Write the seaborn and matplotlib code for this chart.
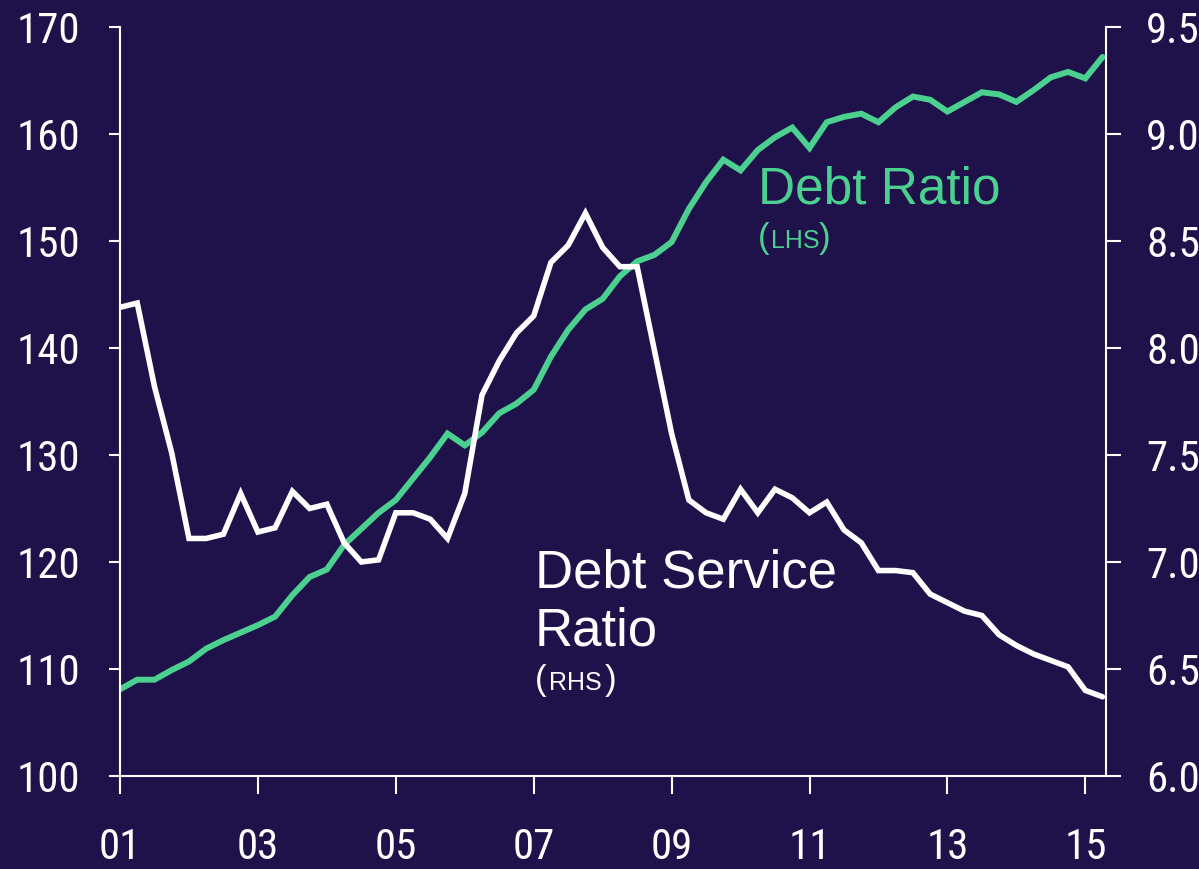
import numpy as np
import pandas as pd
import matplotlib
matplotlib.use('Agg')
import matplotlib.pyplot as plt
from matplotlib import font_manager
import seaborn as sns

# 季度数据 2001Q1 - 2015Q2
debt_ratio = [108.1, 109.0, 109.0, 109.9, 110.7, 111.9, 112.7, 113.4, 114.1, 114.9,
              116.9, 118.6, 119.3, 121.6, 123.1, 124.6, 125.8, 127.8, 129.8, 132.0,
              130.9, 132.1, 133.9, 134.8, 136.1, 139.2, 141.7, 143.6, 144.6, 146.7,
              148.1, 148.7, 149.9, 153.0, 155.5, 157.6, 156.6, 158.5, 159.7, 160.6,
              158.7, 161.1, 161.6, 161.9, 161.1, 162.5, 163.5, 163.2, 162.1, 163.0,
              163.9, 163.7, 163.0, 164.1, 165.3, 165.8, 165.2, 167.2]
debt_service = [8.19, 8.21, 7.82, 7.51, 7.11, 7.11, 7.13, 7.32, 7.14, 7.16,
                7.33, 7.25, 7.27, 7.09, 7.00, 7.01, 7.23, 7.23, 7.20, 7.11,
                7.32, 7.78, 7.94, 8.07, 8.15, 8.40, 8.48, 8.63, 8.47, 8.38,
                8.38, 7.99, 7.60, 7.29, 7.23, 7.20, 7.34, 7.23, 7.34, 7.30,
                7.23, 7.28, 7.15, 7.09, 6.96, 6.96, 6.95, 6.85, 6.81, 6.77,
                6.75, 6.66, 6.61, 6.57, 6.54, 6.51, 6.40, 6.37]
quarters = 2001 + 0.25 * np.arange(len(debt_ratio))

x_ticks = [2001, 2003, 2005, 2007, 2009, 2011, 2013, 2015]
x_labels = ['01', '03', '05', '07', '09', '11', '13', '15']
left_ticks = [100, 110, 120, 130, 140, 150, 160, 170]
right_ticks = [6.0, 6.5, 7.0, 7.5, 8.0, 8.5, 9.0, 9.5]

df = pd.DataFrame({'quarter': quarters, 'debt_ratio': debt_ratio,
                   'debt_service': debt_service})

BG = '#1f114a'
GREEN = '#4bd08f'
WHITE = '#ffffff'
W, H = 1199, 869


def pick_font(candidates):
    """找第一个已安装的窄体字体"""
    for name, size in candidates:
        try:
            font_manager.findfont(font_manager.FontProperties(family=name),
                                  fallback_to_default=False)
            return name, size
        except Exception:
            continue
    return 'Liberation Sans', 28


tick_font, tick_size = pick_font([('Liberation Sans Narrow', 32),
                                  ('DejaVu Sans Condensed', 28),
                                  ('Roboto Condensed', 31),
                                  ('Open Sans Condensed', 31),
                                  ('Liberation Sans', 28)])

sns.set_theme(style='white')
plt.rcParams['font.family'] = [tick_font, 'DejaVu Sans']

fig = plt.figure(figsize=(W / 100, H / 100), dpi=100, facecolor=BG)
ax = fig.add_axes([120 / W, 1 - 776 / H, (1106 - 120) / W, (776 - 27) / H])
ax.set_facecolor(BG)

sns.lineplot(data=df, x='quarter', y='debt_ratio', ax=ax, color=GREEN,
             linewidth=4.3, solid_joinstyle='miter')
ax2 = ax.twinx()
sns.lineplot(data=df, x='quarter', y='debt_service', ax=ax2, color=WHITE,
             linewidth=4.0, solid_joinstyle='miter')
ax2.patch.set_visible(False)

ax.set_xlim(2001, 2015.3)
ax.set_ylim(100, 170)
ax2.set_ylim(6.0, 9.5)
ax.set_xticks(x_ticks)
ax.set_xticklabels(x_labels)
ax.set_yticks(left_ticks)
ax.set_yticklabels([str(v) for v in left_ticks])
ax2.set_yticks(right_ticks)
ax2.set_yticklabels([f'{v:.1f}' for v in right_ticks])

for a in (ax, ax2):
    a.set_xlabel('')
    a.set_ylabel('')
    a.grid(False)
    a.spines['top'].set_visible(False)
    for s in ('left', 'right', 'bottom'):
        a.spines[s].set_color(WHITE)
        a.spines[s].set_linewidth(1.5)

ax.spines['right'].set_visible(False)
ax2.spines['left'].set_visible(False)
ax2.spines['bottom'].set_visible(False)

ax.tick_params(axis='x', direction='out', length=13, width=1.5, color=WHITE,
               labelcolor=WHITE, labelsize=tick_size, pad=24, bottom=True)
ax.tick_params(axis='y', direction='out', length=8, width=1.5, color=WHITE,
               labelcolor=WHITE, labelsize=tick_size, pad=21, left=True)
ax2.tick_params(axis='y', direction='out', length=11, width=1.5, color=WHITE,
                labelcolor=WHITE, labelsize=tick_size, pad=18, right=True)


# 标注文字
def px(x, y):
    return x / W, 1 - y / H


LAB = 'Liberation Sans'
fig.text(*px(758, 203), 'Debt Ratio', color=GREEN, fontsize=37,
         family=LAB, va='baseline', ha='left')
fig.text(*px(758, 248), '(', color=GREEN, fontsize=25,
         family=LAB, va='baseline', ha='left')
fig.text(*px(771, 248), 'LHS', color=GREEN, fontsize=18,
         family=LAB, va='baseline', ha='left')
fig.text(*px(819, 248), ')', color=GREEN, fontsize=25,
         family=LAB, va='baseline', ha='left')

fig.text(*px(535, 588), 'Debt Service', color=WHITE, fontsize=38,
         family=LAB, va='baseline', ha='left')
fig.text(*px(535, 645), 'Ratio', color=WHITE, fontsize=38,
         family=LAB, va='baseline', ha='left')
fig.text(*px(535, 690), '(', color=WHITE, fontsize=25,
         family=LAB, va='baseline', ha='left')
fig.text(*px(549, 690), 'RHS', color=WHITE, fontsize=18,
         family=LAB, va='baseline', ha='left')
fig.text(*px(605, 690), ')', color=WHITE, fontsize=25,
         family=LAB, va='baseline', ha='left')

fig.savefig('out.png', dpi=100, facecolor=BG)
plt.close(fig)
